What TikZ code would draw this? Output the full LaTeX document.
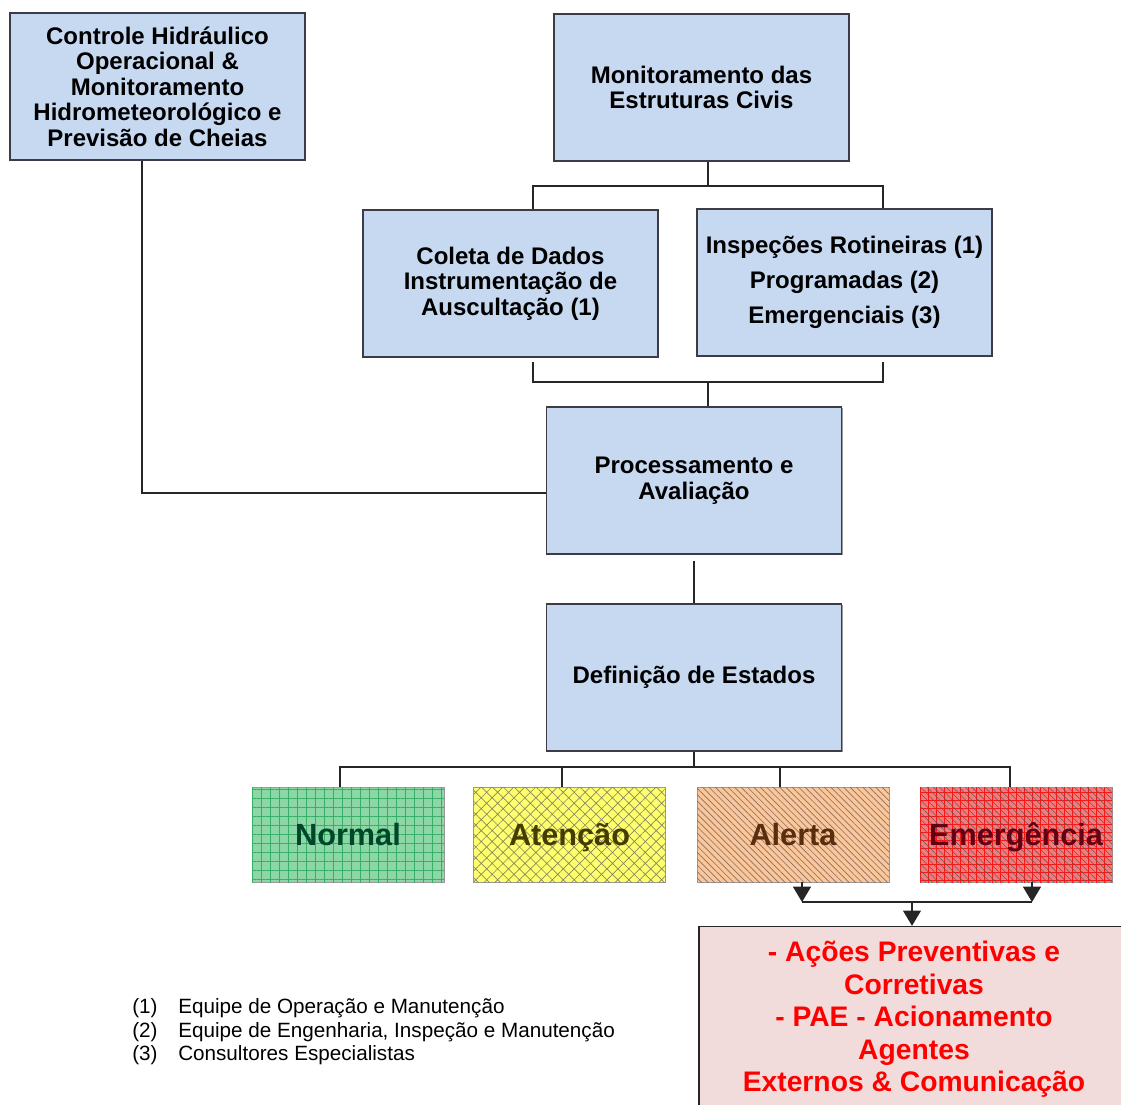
\documentclass[tikz,border=0pt]{standalone}
\usepackage{fontspec}
\setmainfont{Liberation Sans}
\usetikzlibrary{arrows.meta,patterns.meta,shadows}

\definecolor{boxblue}{RGB}{198,217,241}
\definecolor{boxedge}{RGB}{60,60,70}
\definecolor{pinkfill}{RGB}{242,220,219}
\definecolor{greenfill}{RGB}{140,215,165}
\definecolor{greengrid}{RGB}{55,175,105}
\definecolor{greentext}{RGB}{0,70,40}
\definecolor{yellowfill}{RGB}{255,255,110}
\definecolor{yellowhatch}{RGB}{135,135,95}
\definecolor{yellowtext}{RGB}{70,60,0}
\definecolor{peachfill}{RGB}{250,198,155}
\definecolor{peachline}{RGB}{140,110,90}
\definecolor{peachtext}{RGB}{90,45,15}
\definecolor{redfill}{RGB}{240,125,125}
\definecolor{redgrid}{RGB}{255,20,20}
\definecolor{redline}{RGB}{120,80,80}
\definecolor{redtext}{RGB}{100,0,20}

\tikzset{
  bluebox/.style={draw=boxedge, line width=1pt, fill=boxblue,
    minimum width=221.25pt, minimum height=110.25pt, inner sep=0pt,
    align=center, font=\fontsize{18}{19.1}\selectfont\bfseries,
    drop shadow={shadow xshift=1.1pt, shadow yshift=-1.1pt, fill=black!40, opacity=1}},
  statebox/.style={draw=black!40, line width=0.6pt,
    minimum width=144pt, minimum height=71.25pt, inner sep=0pt,
    text height=16.5pt, text depth=0pt,
    font=\fontsize{23}{26}\selectfont\bfseries},
  conn/.style={draw=black!85, line width=1pt},
  arr/.style={conn, -{Triangle[width=13.5pt,length=11.5pt]}},
  note/.style={anchor=west, inner sep=0pt, font=\fontsize{15.5}{17.6}\selectfont}
}

\begin{document}
\begin{tikzpicture}[x=0.75pt,y=-0.75pt]
\useasboundingbox (0,0) rectangle (1121,1104);
\clip (0,0) rectangle (1121,1104);

% upper blocks
\node[bluebox] (ctrl) at (157.5,86.5) {Controle Hidráulico\\Operacional \&\\Monitoramento\\Hidrometeorológico e\\Previsão de Cheias};
\node[bluebox] (mon) at (701.5,87.5) {Monitoramento das\\Estruturas Civis};
\node[bluebox] (col) at (510.5,283.5) {Coleta de Dados\\Instrumentação de\\Auscultação (1)};
\node[bluebox, font=\fontsize{18}{26.25}\selectfont\bfseries] (insp) at (844.5,282.5) {Inspeções Rotineiras (1)\\Programadas (2)\\Emergenciais (3)};
\node[bluebox] (proc) at (694,480.5) {Processamento e\\Avaliação};
\node[bluebox] (defi) at (694,677.5) {Definição de Estados};

% state boxes
\node[statebox, fill=greenfill,
  postaction={pattern={Hatch[angle=0,distance=6.75pt,line width=0.6pt]}, pattern color=greengrid},
  text=greentext] (normal) at (348,834.5) {Normal};
\node[statebox, fill=yellowfill,
  postaction={pattern={Hatch[angle=45,distance=5.8pt,line width=0.5pt]}, pattern color=yellowhatch},
  text=yellowtext] (atencao) at (569.5,834.5) {Atenção};
\node[statebox, fill=peachfill,
  postaction={pattern={Lines[angle=-45,distance=3.4pt,line width=0.5pt]}, pattern color=peachline},
  text=peachtext] (alerta) at (793,834.5) {Alerta};
\node[statebox, fill=redfill,
  postaction={pattern={Hatch[angle=0,distance=6pt,line width=0.5pt]}, pattern color=redgrid},
  postaction={pattern={Lines[angle=-45,distance=3.4pt,line width=0.4pt]}, pattern color=redline},
  text=redtext] (emerg) at (1016,834.5) {Emergência};

% action block
\node[draw=black!85, line width=1pt, fill=pinkfill, minimum width=322.5pt, minimum height=139.5pt,
  inner sep=0pt, align=center, text=red, font=\fontsize{21.2}{24.4}\selectfont\bfseries]
  (acoes) at (914,1019.5) {- Ações Preventivas e\\Corretivas\\- PAE - Acionamento\\Agentes\\Externos \& Comunicação};

% bus junctions
\coordinate (b1) at (708,186);
\coordinate (b1l) at (533,186);
\coordinate (b1r) at (883,186);
\coordinate (c2l) at (533,362);
\coordinate (c2r) at (883,362);
\coordinate (b2) at (708,382);
\coordinate (b2l) at (533,382);
\coordinate (b2r) at (883,382);
\coordinate (k) at (142,493);
\coordinate (b3) at (694,767);
\coordinate (s1) at (340,767);
\coordinate (s2) at (562,767);
\coordinate (s3) at (780,767);
\coordinate (s4) at (1010,767);
\coordinate (a1) at (802,902);
\coordinate (a2) at (1032,902);
\coordinate (a0) at (912,902);

% connectors
\draw[conn] (mon.south -| b1) -- (b1);
\draw[conn] (col.north -| b1l) -- (b1l) -- (b1r) -- (insp.north -| b1r);
\draw[conn] (c2l) -- (b2l) -- (b2r) -- (c2r);
\draw[conn] (b2) -- (proc.north -| b2);
\draw[conn] (ctrl.south -| k) -- (k) -- (proc.west |- k);
\draw[conn] ([yshift=-4.5pt]proc.south) -- (defi.north);
\draw[conn] (defi.south) -- (b3);
\draw[conn] (normal.north -| s1) -- (s1) -- (s4) -- (emerg.north -| s4);
\draw[conn] (s2) -- (atencao.north -| s2);
\draw[conn] (s3) -- (alerta.north -| s3);
\draw[arr] (alerta.south -| a1) -- (a1);
\draw[arr] (emerg.south -| a2) -- (a2);
\draw[conn] (a1) -- (a2);
\draw[arr] (a0) -- (acoes.north -| a0);

% footnotes
\node[note] (n1) at (132,1008) {\makebox[34.5pt][l]{(1)}Equipe de Operação e Manutenção};
\node[note] (n2) at (132,1032) {\makebox[34.5pt][l]{(2)}Equipe de Engenharia, Inspeção e Manutenção};
\node[note] (n3) at (132,1055) {\makebox[34.5pt][l]{(3)}Consultores Especialistas};
\end{tikzpicture}
\end{document}
